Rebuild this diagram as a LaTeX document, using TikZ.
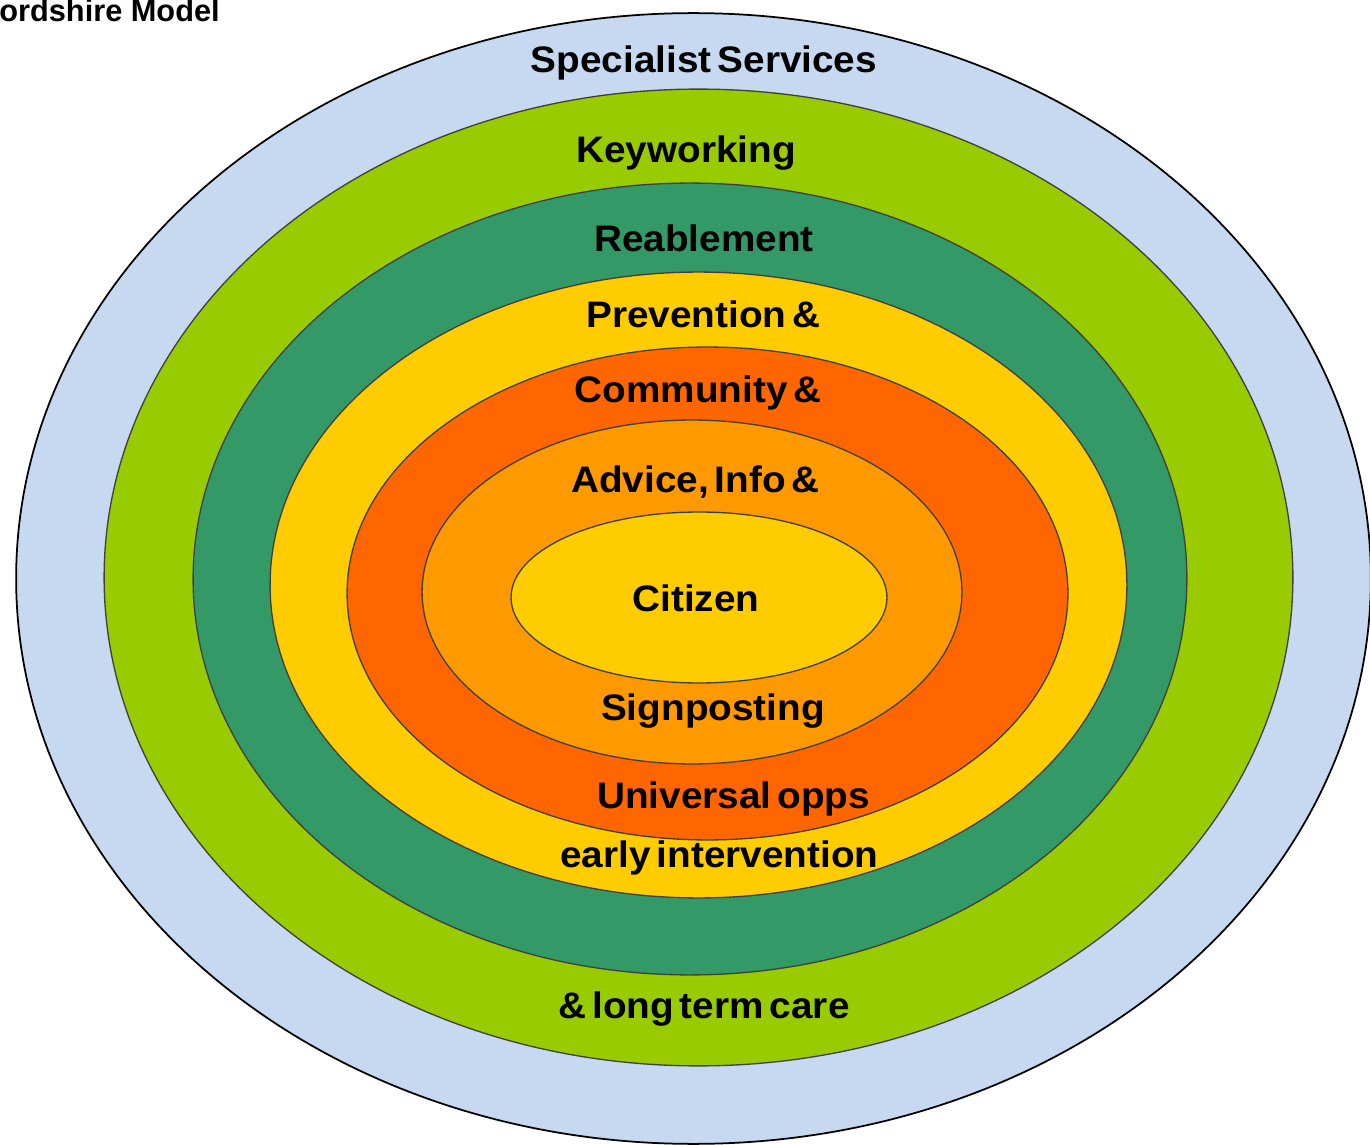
\documentclass[tikz,border=0pt]{standalone}
\usepackage{fontspec}
\setmainfont{Liberation Sans}
\newfontfamily\tierfont{Liberation Sans}[WordSpace=0.55, FakeStretch=1.05]
\usetikzlibrary{shapes.geometric, positioning}
\definecolor{skyring}{HTML}{C6D9F0}
\definecolor{limering}{HTML}{99CC00}
\definecolor{forestring}{HTML}{339966}
\definecolor{goldring}{HTML}{FFCC00}
\definecolor{flamering}{HTML}{FF6600}
\definecolor{amberring}{HTML}{FF9900}

\begin{document}
\begin{tikzpicture}[
	x=0.02cm, y=-0.02cm,
	ring/.style 2 args={ellipse, draw=black!75, line width=0.75pt, inner sep=0pt,
		minimum width=#1cm, minimum height=#2cm},
	tier/.style={anchor=base, inner sep=0pt,
		font=\tierfont\bfseries\fontsize{21}{25}\selectfont
	}]
\useasboundingbox (0,0) rectangle (1370,1145);

% rings, outside in
\node[ring={27.10}{22.62}, fill=skyring, draw=black, line width=1pt] (specialist) at (693.5,578.5) {};
\node[ring={23.78}{19.54}, fill=limering] (keywork) at (698.5,577.5) {};
\node[ring={19.88}{15.84}, fill=forestring] (reable) at (690,579) {};
\node[ring={17.14}{12.52}, fill=goldring] (prevent) at (698.5,585) {};
\node[ring={14.42}{9.86}, fill=flamering] (community) at (707.5,593.5) {};
\node[ring={10.80}{6.88}, fill=amberring] (advice) at (692,592) {};
\node[ring={7.52}{3.42}, fill=goldring] (citizen) at (699,597.5) {};

% ring texts
\node[tier] (specialisttop) at (704,73) {Specialist Services};
\node[tier] (keyworktop) at (686,163) {Keyworking};
\node[tier] (reabletop) at (704,252) {Reablement};
\node[tier] (preventtop) at (703.5,328) {Prevention \&};
\node[tier] (communitytop) at (698,403) {Community \&};
\node[tier] (advicetop) at (695.5,493) {Advice, Info \&};
\node[tier] (citizentext) at (696,611) {Citizen};
\node[tier] (advicebot) at (713,720) {Signposting};
\node[tier] (communitybot) at (733.5,808) {Universal opps};
\node[tier] (preventbot) at (719.5,867) {early intervention};
\node[tier] (keyworkbot) at (704,1018) {\& long term care};

\node[anchor=base west, inner sep=0pt, font=\bfseries\fontsize{17.5}{20}\selectfont] (title) at (-1,22) {ordshire Model};
\end{tikzpicture}
\end{document}
